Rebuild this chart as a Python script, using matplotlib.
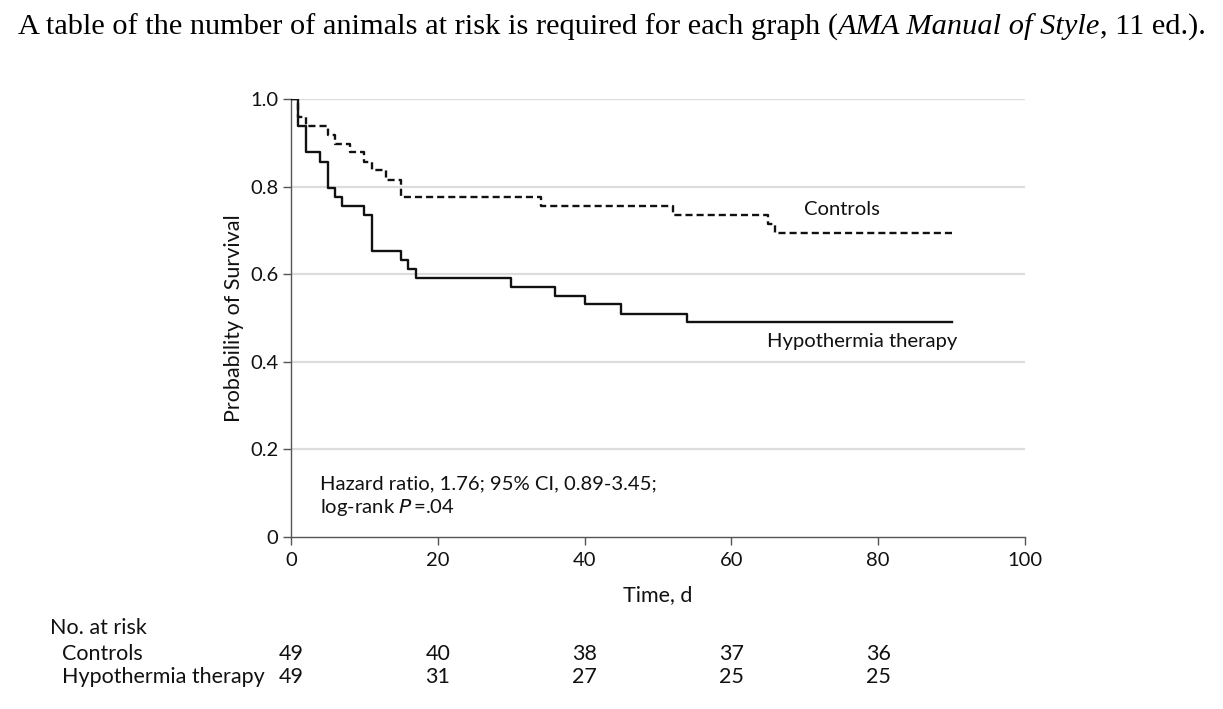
import matplotlib
matplotlib.use("Agg")
import matplotlib.pyplot as plt
import matplotlib.transforms as mtransforms

# ---- data ----
hypo_times = [0, 1, 2, 4, 5, 6, 7, 10, 11, 15, 16, 17, 30, 36, 40, 45, 54, 90]
hypo_surv = [1.0, 0.939, 0.878, 0.857, 0.796, 0.776, 0.755, 0.735, 0.653, 0.633,
             0.612, 0.592, 0.571, 0.551, 0.531, 0.510, 0.490, 0.490]
ctrl_times = [0, 1, 2, 5, 6, 8, 10, 11, 13, 15, 34, 52, 65, 66, 90]
ctrl_surv = [1.0, 0.959, 0.939, 0.918, 0.898, 0.878, 0.857, 0.837, 0.816, 0.776,
             0.755, 0.735, 0.714, 0.694, 0.694]

x_ticks = [0, 20, 40, 60, 80, 100]
y_ticks = [0, 0.2, 0.4, 0.6, 0.8, 1.0]
y_ticklabels = ["0", "0.2", "0.4", "0.6", "0.8", "1.0"]

risk_times = [0, 20, 40, 60, 80]
risk_controls = [49, 40, 38, 37, 36]
risk_hypo = [49, 31, 27, 25, 25]

SANS = ["Lato", "DejaVu Sans"]
plt.rcParams["font.family"] = SANS
TXT = "#111111"

W, H = 1223, 709
fig = plt.figure(figsize=(W / 100, H / 100), dpi=100)
ax = fig.add_axes([291 / W, (H - 537) / H, 734 / W, 438 / H])

ax.set_xlim(0, 100)
ax.set_ylim(0, 1.0)

# gridlines
for yv in y_ticks[1:]:
    ax.axhline(yv, color="#dcdcdc", lw=1.6, zorder=0)

ax.step(hypo_times, hypo_surv, where="post", color="#111111", lw=1.7, zorder=3)
ax.step(ctrl_times, ctrl_surv, where="post", color="#111111", lw=1.7,
        dashes=(3.0, 1.7), zorder=3)

for s in ["top", "right"]:
    ax.spines[s].set_visible(False)
for s in ["left", "bottom"]:
    ax.spines[s].set_color("#555555")
    ax.spines[s].set_linewidth(1.0)

ax.set_xticks(x_ticks)
ax.set_yticks(y_ticks)
ax.set_yticklabels(y_ticklabels)
ax.tick_params(axis="both", direction="out", length=6, width=1.0,
               color="#555555", labelsize=14.5, labelcolor=TXT)
ax.tick_params(axis="x", pad=5)
ax.tick_params(axis="y", pad=3)

ax.set_xlabel("Time, d", fontsize=15.5, color=TXT)
ax.xaxis.set_label_coords(0.5, -0.11)
ax.set_ylabel("Probability of Survival", fontsize=15.5, color=TXT)
ax.yaxis.set_label_coords(-0.064, 0.5)

ax.text(75.1, 0.747, "Controls", ha="center", va="center", fontsize=14.6, color=TXT)
ax.text(77.8, 0.447, "Hypothermia therapy", ha="center", va="center", fontsize=14.6,
        color=TXT)
ax.text(3.95, 0.121, "Hazard ratio, 1.76; 95% CI, 0.89-3.45;", ha="left", va="center",
        fontsize=14.6, color=TXT)
ax.text(3.95, 0.068, "log-rank $\\mathit{P}$\u2009=.04", ha="left", va="center",
        fontsize=14.6, color=TXT)

# title with mixed styles
renderer = fig.canvas.get_renderer()
pieces = [("A table of the number of animals at risk is required for each graph (", "normal"),
          ("AMA Manual of Style", "italic"),
          (", 11 ed.).", "normal")]
xpos = 18 / W
for txt, style in pieces:
    t = fig.text(xpos, 1 - 27 / H, txt, fontsize=21.9, family="Liberation Serif",
                 style=style, ha="left", va="center")
    bb = t.get_window_extent(renderer=renderer)
    xpos += bb.width / W

# risk table
RS = 15.5
fig.text(50 / W, 1 - 628 / H, "No. at risk", fontsize=RS, ha="left", va="center",
         color=TXT)
fig.text(62 / W, 1 - 654 / H, "Controls", fontsize=RS, ha="left", va="center",
         color=TXT)
fig.text(62 / W, 1 - 677 / H, "Hypothermia therapy", fontsize=RS, ha="left",
         va="center", color=TXT)
trans = mtransforms.blended_transform_factory(ax.transData, fig.transFigure)
for t, c, h in zip(risk_times, risk_controls, risk_hypo):
    ax.text(t, 1 - 654 / H, str(c), transform=trans, ha="center", va="center",
            fontsize=RS, color=TXT, clip_on=False)
    ax.text(t, 1 - 677 / H, str(h), transform=trans, ha="center", va="center",
            fontsize=RS, color=TXT, clip_on=False)

fig.savefig("out.png", dpi=100, facecolor="white")
